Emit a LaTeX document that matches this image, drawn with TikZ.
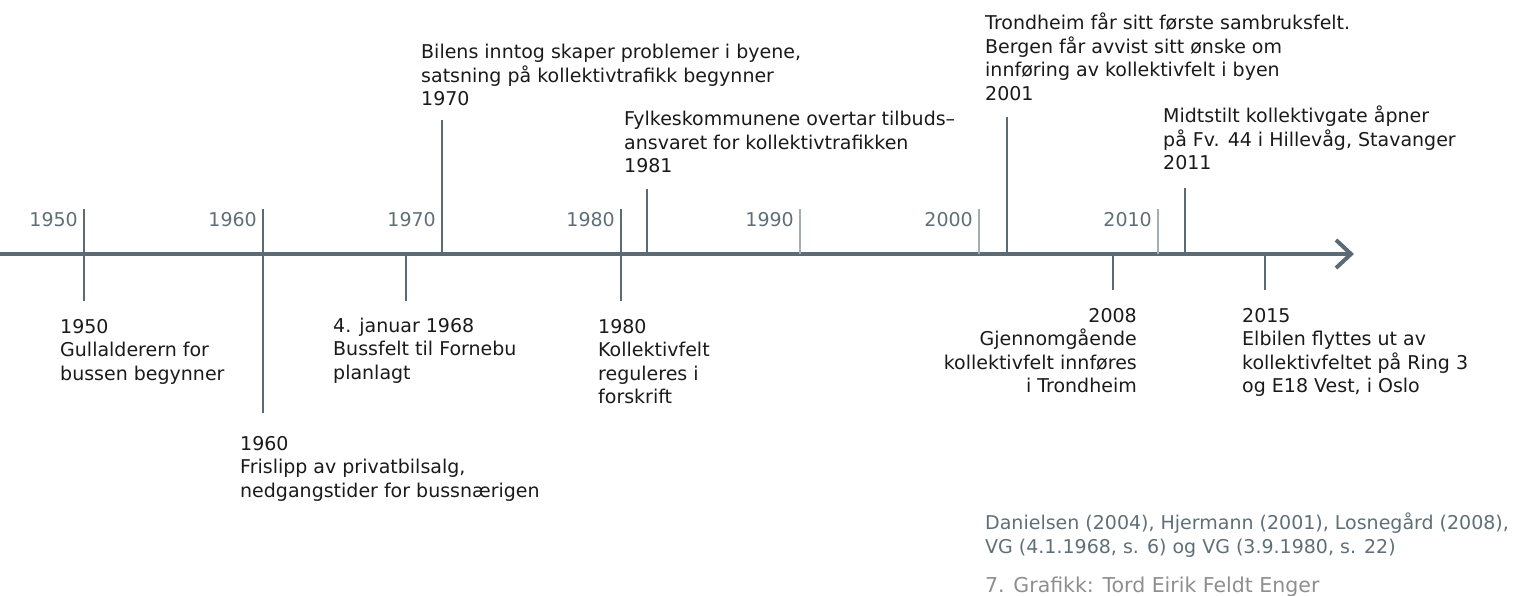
\documentclass[tikz,border=0pt]{standalone}
\usepackage{fontspec}
\setmainfont{DejaVu Sans}
\definecolor{axisgrey}{HTML}{5B6B74}
\definecolor{lightgrey}{HTML}{A3ADB3}
\definecolor{labelgrey}{HTML}{5F6F78}
\definecolor{creditgrey}{HTML}{8E8E8E}
\definecolor{ink}{HTML}{1A1A1A}
% multi-line blocks whose reference point is the baseline of the first line
\newcommand\leftlines[1]{\vtop{\halign{##\hfil\cr#1\crcr}}}
\newcommand\rightlines[1]{\vtop{\halign{\hfil##\cr#1\crcr}}}
\tikzset{
  event/.style={inner sep=0pt, text=ink, font=\fontsize{19}{23.5}\selectfont},
  decade/.style={inner sep=0pt, anchor=base east, text=labelgrey, font=\fontsize{19}{23.5}\selectfont},
  eventline/.style={draw=axisgrey, line width=1.3pt},
  tickline/.style={draw=lightgrey, line width=1.3pt},
  source/.style={inner sep=0pt, anchor=base west, text=labelgrey, font=\fontsize{19}{24}\selectfont},
}
\begin{document}
\begin{tikzpicture}[x=1pt, y=-1pt]
\useasboundingbox (0,0) rectangle (1518,596);

% time axis with open arrow head
\coordinate (axisstart) at (0,254);
\coordinate (axisend) at (1351,254);
\draw[draw=axisgrey, line width=4pt] (axisstart) -- (axisend);
\coordinate (tipup) at (1336,240);
\coordinate (tipdown) at (1336,268);
\draw[draw=axisgrey, line width=4pt, line join=miter] (tipup) -- (axisend) -- (tipdown);

% decade labels
\foreach \yr/\x in {1950/84,1960/263,1970/442,1980/621,1990/800,2000/979,2010/1158}{
  \node[decade] (dec\yr) at (\x-6,226) {\yr};
}

% plain decade ticks
\foreach \yr/\x in {1990/800,2000/979,2010/1158}{
  \coordinate (dtop\yr) at (\x,209);
  \coordinate (dbot\yr) at (\x,254);
  \draw[tickline] (dtop\yr) -- (dbot\yr);
}

% event lines
\coordinate (l1950a) at (84,209);   \coordinate (l1950b) at (84,301);
\coordinate (l1960a) at (263,209);  \coordinate (l1960b) at (263,413);
\coordinate (l1968a) at (406,254);  \coordinate (l1968b) at (406,301);
\coordinate (l1970a) at (442,120);  \coordinate (l1970b) at (442,254);
\coordinate (l1980a) at (621,209);  \coordinate (l1980b) at (621,301);
\coordinate (l1981a) at (647,189);  \coordinate (l1981b) at (647,254);
\coordinate (l2001a) at (1007,117); \coordinate (l2001b) at (1007,254);
\coordinate (l2008a) at (1113,254); \coordinate (l2008b) at (1113,290);
\coordinate (l2011a) at (1185,188); \coordinate (l2011b) at (1185,254);
\coordinate (l2015a) at (1265,254); \coordinate (l2015b) at (1265,290);
\foreach \e in {1950,1960,1968,1970,1980,1981,2001,2008,2011,2015}{
  \draw[eventline] (l\e a) -- (l\e b);
}

% events below the axis
\node[event, anchor=base west] (e1950) at (60,333)
  {\leftlines{1950\cr Gullalderern for\cr bussen begynner}};
\node[event, anchor=base west] (e1960) at (240,450)
  {\leftlines{1960\cr Frislipp av privatbilsalg,\cr nedgangstider for bussnærigen}};
\node[event, anchor=base west] (e1968) at (333,332)
  {\leftlines{4. januar 1968\cr Bussfelt til Fornebu\cr planlagt}};
\node[event, anchor=base west] (e1980) at (598,333)
  {\leftlines{1980\cr Kollektivfelt\cr reguleres i\cr forskrift}};
\node[event, anchor=base east] (e2008) at (1137,322)
  {\rightlines{2008\cr Gjennomgående\cr kollektivfelt innføres\cr i Trondheim}};
\node[event, anchor=base west] (e2015) at (1242,322)
  {\leftlines{2015\cr Elbilen flyttes ut av\cr kollektivfeltet på Ring 3\cr og E18 Vest, i Oslo}};

% events above the axis
\node[event, anchor=base west] (e1970) at (421,59)
  {\leftlines{Bilens inntog skaper problemer i byene,\cr satsning på kollektivtrafikk begynner\cr 1970}};
\node[event, anchor=base west] (e1981) at (624,126)
  {\leftlines{Fylkeskommunene overtar tilbuds–\cr ansvaret for kollektivtrafikken\cr 1981}};
\node[event, anchor=base west] (e2001) at (985,30)
  {\leftlines{Trondheim får sitt første sambruksfelt.\cr Bergen får avvist sitt ønske om\cr innføring av kollektivfelt i byen\cr 2001}};
\node[event, anchor=base west] (e2011) at (1163,123)
  {\leftlines{Midtstilt kollektivgate åpner\cr på Fv. 44 i Hillevåg, Stavanger\cr 2011}};

% sources and credit
\node[source] (sources) at (985,529)
  {\leftlines{Danielsen (2004), Hjermann (2001), Losnegård (2008),\cr VG (4.1.1968, s. 6) og VG (3.9.1980, s. 22)}};
\node[inner sep=0pt, anchor=base west, text=creditgrey, font=\fontsize{20.5}{24}\selectfont] (credit) at (985,592)
  {7. Grafikk: Tord Eirik Feldt Enger};
\end{tikzpicture}
\end{document}
